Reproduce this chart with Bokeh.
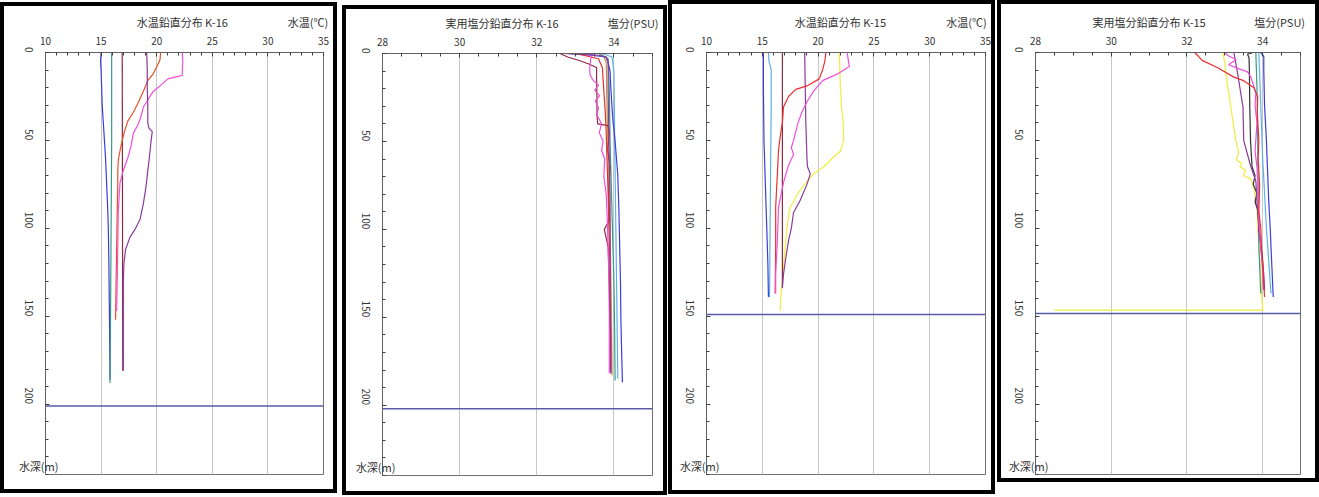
import math
from bokeh.plotting import figure
from bokeh.layouts import row, column
from bokeh.models import Range1d, FixedTicker, Span, LinearAxis
from bokeh.embed import file_html
from bokeh.resources import INLINE

FONT = "Noto Sans CJK JP"

# ---------------- K-16 water temperature (deg C) vs depth (m) ----------------
t16_blue_d = [0, 5, 10, 20, 30, 40, 50, 60, 75, 90, 100, 120, 150, 186]
t16_blue_v = [15.0, 14.95, 15.0, 15.05, 15.1, 15.2, 15.3, 15.4, 15.5, 15.6, 15.65, 15.7, 15.75, 15.8]
t16_teal_d = [0, 50, 100, 150, 188]
t16_teal_v = [15.95, 15.95, 15.9, 15.85, 15.8]
t16_brown_d = [0, 181]
t16_brown_v = [16.9, 16.95]
t16_orange_d = [0, 4, 7, 12, 16, 22, 29, 34, 39, 45, 50, 56, 61, 68, 74, 90, 110, 130, 152]
t16_orange_v = [20.35, 20.3, 20.1, 19.7, 19.2, 18.8, 18.3, 17.9, 17.4, 17.1, 16.9, 16.7, 16.55, 16.5, 16.5, 16.45, 16.4, 16.35, 16.3]
t16_pink_d = [0, 5, 10, 13, 15, 19, 22, 27, 31, 36, 40, 46, 53, 60, 67, 74, 90, 110, 130, 147]
t16_pink_v = [22.3, 22.35, 22.3, 22.3, 21.0, 20.3, 19.7, 19.2, 18.8, 18.6, 18.4, 17.9, 17.7, 17.4, 17.0, 16.7, 16.55, 16.5, 16.45, 16.4]
t16_purple_d = [0, 10, 20, 30, 40, 43, 45, 50, 56, 62, 67, 73, 78, 86, 95, 100, 105, 112, 120, 130, 150, 181]
t16_purple_v = [19.1, 19.15, 19.15, 19.2, 19.2, 19.3, 19.6, 19.5, 19.4, 19.3, 19.2, 19.1, 19.0, 18.8, 18.5, 18.1, 17.6, 17.2, 17.05, 17.0, 17.0, 17.0]
t16_bottom = 201

# ---------------- K-16 practical salinity (PSU) vs depth (m) ----------------
s16_blue_d = [0, 1, 2, 5, 10, 20, 37, 50, 69, 90, 110, 130, 150, 170, 187]
s16_blue_v = [32.8, 33.4, 33.8, 33.85, 33.9, 33.92, 33.97, 34.03, 34.1, 34.13, 34.15, 34.17, 34.18, 34.2, 34.22]
s16_cyan_d = [0, 2, 10, 50, 100, 150, 185]
s16_cyan_v = [33.7, 33.95, 34.0, 34.02, 34.05, 34.08, 34.1]
s16_teal_d = [0, 3, 20, 50, 90, 130, 160, 186]
s16_teal_v = [33.6, 33.85, 33.88, 33.9, 33.95, 34.0, 34.02, 34.03]
s16_gold_d = [0, 5, 30, 60, 100, 140, 183]
s16_gold_v = [33.7, 33.8, 33.82, 33.85, 33.9, 33.93, 33.95]
s16_brown_d = [0, 2, 4, 6, 8, 15, 25, 35, 40, 41, 45, 55, 65, 80, 95, 100, 110, 130, 150, 170, 181]
s16_brown_v = [32.6, 32.8, 33.1, 33.35, 33.55, 33.55, 33.56, 33.56, 33.58, 33.85, 33.88, 33.84, 33.9, 33.86, 33.88, 33.75, 33.85, 33.88, 33.9, 33.9, 33.92]
s16_red_d = [0, 3, 8, 15, 25, 35, 45, 60, 80, 100, 120, 140, 160, 178]
s16_red_v = [33.0, 33.6, 33.7, 33.72, 33.75, 33.78, 33.8, 33.82, 33.85, 33.87, 33.9, 33.9, 33.92, 33.92]
s16_pink_d = [0, 3, 8, 12, 15, 18, 21, 24, 27, 31, 35, 40, 45, 50, 55, 60, 70, 80, 90, 110, 130, 150, 170, 182]
s16_pink_v = [33.45, 33.4, 33.37, 33.38, 33.45, 33.6, 33.5, 33.63, 33.52, 33.6, 33.56, 33.68, 33.62, 33.72, 33.68, 33.76, 33.74, 33.8, 33.82, 33.85, 33.87, 33.88, 33.88, 33.88]
s16_purple_d = [0, 0.5, 1, 2, 5, 20, 50, 80, 110, 140, 170, 182]
s16_purple_v = [32.7, 33.2, 33.6, 33.8, 33.85, 33.85, 33.87, 33.9, 33.9, 33.9, 33.92, 33.92]
s16_bottom = 202

# ---------------- K-15 water temperature ----------------
t15_blue_d = [0, 20, 50, 80, 100, 120, 139]
t15_blue_v = [15.1, 15.1, 15.15, 15.3, 15.4, 15.5, 15.55]
t15_cyan_d = [0, 5, 10, 30, 60, 100, 139]
t15_cyan_v = [15.55, 15.6, 15.8, 15.8, 15.75, 15.7, 15.65]
t15_brown_d = [0, 134]
t15_brown_v = [16.8, 16.8]
t15_purple_d = [0, 20, 40, 60, 65, 69, 75, 84, 91, 100, 107, 117, 126, 134]
t15_purple_v = [18.8, 18.85, 18.9, 19.0, 19.05, 19.3, 19.0, 18.4, 17.8, 17.6, 17.35, 17.1, 16.9, 16.8]
t15_red_d = [0, 5, 10, 15, 19, 21, 25, 31, 40, 48, 56, 69, 88, 110, 137]
t15_red_v = [20.7, 20.6, 20.4, 20.1, 19.0, 18.0, 17.35, 16.9, 16.8, 16.6, 16.45, 16.35, 16.2, 16.2, 16.15]
t15_pink_d = [0, 4, 8, 12, 16, 22, 27, 33, 40, 45, 50, 54, 58, 62, 65, 74, 88, 107, 126, 137]
t15_pink_v = [22.6, 22.7, 22.8, 21.8, 20.4, 19.6, 19.1, 18.6, 18.2, 18.0, 17.8, 17.6, 17.8, 17.5, 17.3, 16.9, 16.45, 16.35, 16.2, 16.2]
t15_yellow_d = [0, 10, 20, 31, 40, 50, 56, 60, 65, 69, 75, 80, 88, 95, 107, 126, 140, 147]
t15_yellow_v = [21.9, 21.95, 22.0, 22.1, 22.25, 22.3, 22.0, 21.3, 20.5, 19.6, 18.8, 18.2, 17.5, 17.3, 17.1, 16.85, 16.65, 16.6]
t15_bottom = 149

# ---------------- K-15 practical salinity ----------------
s15_yellow_d = [0, 6, 12, 20, 31, 40, 50, 57, 61, 63, 65, 67, 70, 72, 77, 90, 110, 126, 140, 145, 146.5, 146.5]
s15_yellow_v = [32.95, 33.0, 33.03, 33.08, 33.16, 33.22, 33.29, 33.37, 33.3, 33.45, 33.4, 33.55, 33.5, 33.69, 33.77, 33.85, 33.9, 33.95, 33.98, 34.0, 34.0, 28.5]
s15_red_d = [0, 2, 4.5, 8.5, 14, 16, 20, 25, 35, 50, 60, 75, 90, 100, 110, 120, 130, 139]
s15_red_v = [32.2, 32.3, 32.4, 32.8, 33.24, 33.5, 33.77, 33.87, 33.86, 33.9, 33.88, 33.92, 33.9, 33.95, 33.97, 34.0, 34.03, 34.05]
s15_pink_d = [0, 2, 4, 7, 9, 11, 14, 18, 23, 30, 40, 50, 56, 65, 80, 95, 110, 125, 135]
s15_pink_v = [33.0, 33.1, 33.3, 33.1, 33.35, 33.6, 33.69, 33.75, 33.82, 33.8, 33.85, 33.82, 33.8, 33.85, 33.88, 33.9, 33.95, 34.0, 34.02]
s15_purple_d = [0, 12, 31, 50, 58, 65, 73, 85, 100, 115, 126, 135]
s15_purple_v = [33.24, 33.34, 33.48, 33.5, 33.6, 33.69, 33.82, 33.85, 33.9, 33.97, 34.03, 34.05]
s15_black_d = [0, 1, 3, 10, 30, 50, 65, 70, 75, 80, 85, 90, 100, 118, 135]
s15_black_v = [33.75, 33.6, 33.64, 33.65, 33.66, 33.68, 33.72, 33.8, 33.75, 33.85, 33.8, 33.88, 33.9, 34.0, 34.03]
s15_green_d = [0, 20, 50, 80, 110, 137]
s15_green_v = [33.82, 33.85, 33.87, 33.88, 33.9, 33.95]
s15_cyan_d = [0, 30, 60, 100, 137]
s15_cyan_v = [33.9, 33.95, 34.0, 34.1, 34.22]
s15_blue_d = [0, 2, 10, 30, 50, 84, 100, 120, 139]
s15_blue_v = [33.95, 34.03, 34.03, 34.05, 34.1, 34.16, 34.2, 34.24, 34.28]
s15_bottom = 148.5

# tick labels
temp_ticks = [10, 15, 20, 25, 30, 35]
sal_ticks = [28, 30, 32, 34]
depth_ticks = [0, 50, 100, 150, 200]

C_BLUE = "#3c3cd8"
C_TEAL = "#3a9a8a"
C_CYAN = "#5fb0e8"
C_BROWN = "#8e2a40"
C_ORANGE = "#e8502a"
C_RED = "#e83030"
C_PINK = "#f050d8"
C_PURPLE = "#8a3a9a"
C_YELLOW = "#f0ec40"
C_GOLD = "#c09040"
C_BLACK = "#303030"
TXT = "#333333"


def panel(W, H, left, right, top, bottom_b, xr, majors, minors,
          title, title_x, unit, unit_x, bottom, profiles):
    p = figure(width=W, height=H, x_range=Range1d(*xr), y_range=Range1d(240, 0),
               x_axis_location="above", output_backend="svg", toolbar_location=None,
               min_border_left=left, min_border_right=right, min_border_top=top,
               min_border_bottom=bottom_b, background_fill_color="white",
               border_fill_color="white")
    p.title.visible = False
    p.outline_line_color = "#707070"
    p.outline_line_width = 1

    xa = p.xaxis[0]
    xa.ticker = FixedTicker(ticks=majors, minor_ticks=minors)
    ya = p.yaxis[0]
    ya.ticker = FixedTicker(ticks=depth_ticks, minor_ticks=list(range(0, 241, 10)))
    ya.major_label_orientation = -math.pi / 2
    for ax in (xa, ya):
        ax.axis_line_color = "#606060"
        ax.major_tick_in = 4
        ax.major_tick_out = 0
        ax.minor_tick_in = 3
        ax.minor_tick_out = 0
        ax.major_tick_line_color = "#404040"
        ax.minor_tick_line_color = "#404040"
        ax.major_label_text_font = FONT
        ax.major_label_text_font_size = "10px"
        ax.major_label_text_color = TXT
    xa.major_label_standoff = 8
    ya.major_label_standoff = 17

    # title and unit written as labels of an outer top axis
    ta = LinearAxis(ticker=FixedTicker(ticks=[title_x, unit_x], minor_ticks=[]),
                    major_label_overrides={title_x: title, unit_x: unit,
                                           str(title_x): title, str(unit_x): unit})
    ta.axis_line_color = None
    ta.major_tick_line_color = None
    ta.minor_tick_line_color = None
    ta.major_label_standoff = -2
    ta.major_label_text_font = FONT
    ta.major_label_text_font_size = "11px"
    ta.major_label_text_color = TXT
    p.add_layout(ta, "above")

    # depth unit written as a label of an outer left axis
    da = LinearAxis(ticker=FixedTicker(ticks=[235], minor_ticks=[]),
                    major_label_overrides={235: "水深(m)", "235": "水深(m)"})
    da.axis_line_color = None
    da.major_tick_line_color = None
    da.minor_tick_line_color = None
    da.major_label_orientation = "horizontal"
    da.major_label_standoff = -47
    da.major_label_text_font = FONT
    da.major_label_text_font_size = "11px"
    da.major_label_text_color = TXT
    p.add_layout(da, "left")

    p.xgrid.ticker = FixedTicker(ticks=majors)
    p.xgrid.grid_line_color = "#c8c8c8"
    p.ygrid.visible = False

    for d, v, c in profiles:
        p.line(v, d, line_color=c, line_width=1.2)

    p.add_layout(Span(location=bottom, dimension="width", line_color="#5a5aa8", line_width=1.5))
    return p


def framed(p, mtop, mleft):
    box = column(p, styles={"border": "4px solid black", "background": "white"})
    box.margin = (mtop, 0, 0, mleft)
    return box


temp_minor = list(range(10, 36))
sal_minor = [28 + 0.5 * i for i in range(15)]

p1 = panel(329, 483, 41, 10, 46, 15, (10, 35), temp_ticks, temp_minor,
           "水温鉛直分布 K-16", 22.3, "水温(℃)", 33.6, t16_bottom,
           [(t16_blue_d, t16_blue_v, C_BLUE), (t16_teal_d, t16_teal_v, C_TEAL),
            (t16_brown_d, t16_brown_v, C_BROWN), (t16_orange_d, t16_orange_v, C_ORANGE),
            (t16_pink_d, t16_pink_v, C_PINK), (t16_purple_d, t16_purple_v, C_PURPLE)])

p2 = panel(317, 482, 36, 11, 44, 16, (28, 35), sal_ticks, sal_minor,
           "実用塩分鉛直分布 K-16", 31.1, "塩分(PSU)", 34.5, s16_bottom,
           [(s16_gold_d, s16_gold_v, C_GOLD), (s16_teal_d, s16_teal_v, C_TEAL),
            (s16_cyan_d, s16_cyan_v, C_CYAN), (s16_blue_d, s16_blue_v, C_BLUE),
            (s16_brown_d, s16_brown_v, C_BROWN), (s16_red_d, s16_red_v, C_RED),
            (s16_pink_d, s16_pink_v, C_PINK), (s16_purple_d, s16_purple_v, C_PURPLE)])

p3 = panel(319, 486, 34, 6, 48, 16, (10, 35), temp_ticks, temp_minor,
           "水温鉛直分布 K-15", 22.0, "水温(℃)", 33.3, t15_bottom,
           [(t15_yellow_d, t15_yellow_v, C_YELLOW), (t15_blue_d, t15_blue_v, C_BLUE),
            (t15_cyan_d, t15_cyan_v, C_CYAN), (t15_brown_d, t15_brown_v, C_BROWN),
            (t15_purple_d, t15_purple_v, C_PURPLE), (t15_red_d, t15_red_v, C_RED),
            (t15_pink_d, t15_pink_v, C_PINK)])

p4 = panel(314, 474, 34, 15, 48, 4, (28, 35), sal_ticks, sal_minor,
           "実用塩分鉛直分布 K-15", 31.0, "塩分(PSU)", 34.45, s15_bottom,
           [(s15_yellow_d, s15_yellow_v, C_YELLOW), (s15_green_d, s15_green_v, C_TEAL),
            (s15_cyan_d, s15_cyan_v, C_CYAN), (s15_blue_d, s15_blue_v, C_BLUE),
            (s15_black_d, s15_black_v, C_BLACK), (s15_purple_d, s15_purple_v, C_PURPLE),
            (s15_pink_d, s15_pink_v, C_PINK), (s15_red_d, s15_red_v, C_RED)])

layout = row(framed(p1, 2, 0), framed(p2, 5, 5), framed(p3, 0, 1), framed(p4, 0, 2),
             spacing=0)

open("out.html", "w").write(file_html(layout, INLINE))
